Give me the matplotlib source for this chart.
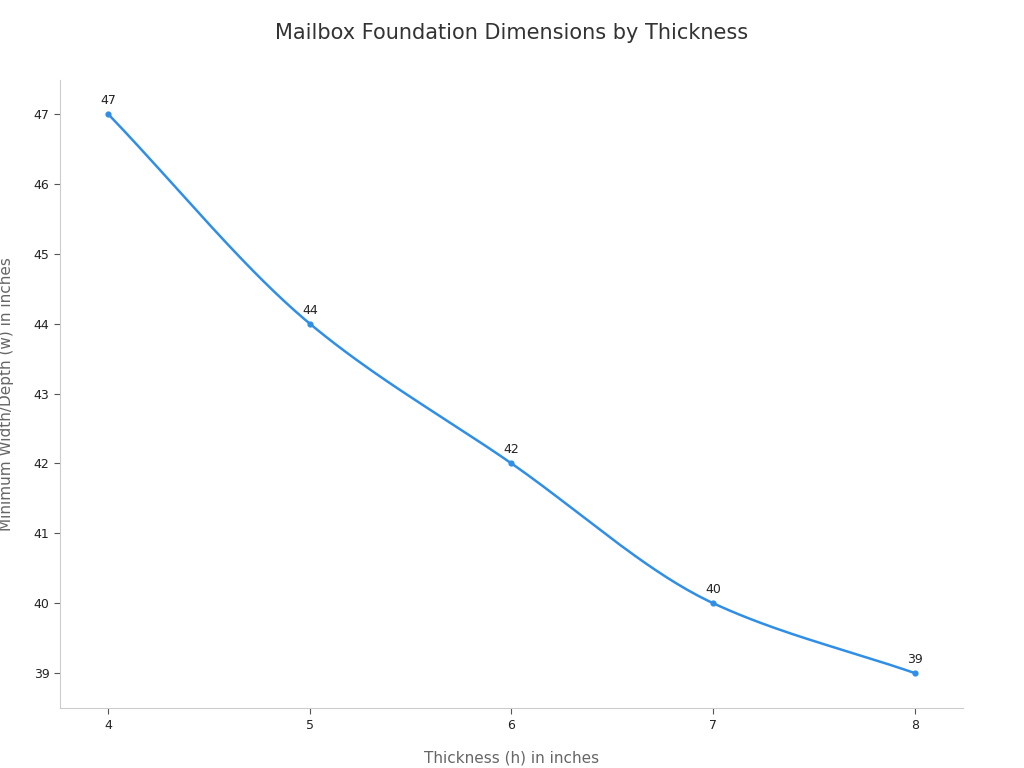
import matplotlib
matplotlib.use("Agg")
import matplotlib.pyplot as plt
import numpy as np

thickness = [4, 5, 6, 7, 8]
min_width = [47, 44, 42, 40, 39]


def monotone_curve(x, y, n=40):
    # Fritsch-Carlson monotone cubic, only for drawing a smooth line
    x = np.asarray(x, float)
    y = np.asarray(y, float)
    h = np.diff(x)
    d = np.diff(y) / h
    m = np.zeros_like(y)
    m[0], m[-1] = d[0], d[-1]
    for i in range(1, len(x) - 1):
        if d[i - 1] * d[i] <= 0:
            m[i] = 0
        else:
            m[i] = 3 * (h[i - 1] + h[i]) / ((2 * h[i] + h[i - 1]) / d[i - 1] + (h[i] + 2 * h[i - 1]) / d[i])
    xs, ys = [], []
    for i in range(len(x) - 1):
        t = np.linspace(0, 1, n)
        h00 = 2 * t**3 - 3 * t**2 + 1
        h10 = t**3 - 2 * t**2 + t
        h01 = -2 * t**3 + 3 * t**2
        h11 = t**3 - t**2
        xs.append(x[i] + t * h[i])
        ys.append(h00 * y[i] + h10 * h[i] * m[i] + h01 * y[i + 1] + h11 * h[i] * m[i + 1])
    return np.concatenate(xs), np.concatenate(ys)


fig = plt.figure(figsize=(10.24, 7.68), dpi=100)
ax = fig.add_axes([0.0586, 0.078, 0.8818, 0.818])

color = "#2f8fe6"
sx, sy = monotone_curve(thickness, min_width)
ax.plot(sx, sy, color=color, linewidth=1.8)
ax.scatter(thickness, min_width, color=color, s=12, zorder=3)
for xv, yv in zip(thickness, min_width):
    ax.annotate(str(yv), (xv, yv), xytext=(0, 5), textcoords="offset points",
                ha="center", va="bottom", fontsize=9, color="#222222")

ax.set_xlim(3.762, 8.238)
ax.set_ylim(38.5, 47.487)
ax.set_xticks(thickness)
ax.set_yticks(range(39, 48))
ax.tick_params(labelsize=9, colors="#222222", length=4)
ax.tick_params(axis="both", color="#555555")
for s in ["top", "right"]:
    ax.spines[s].set_visible(False)
for s in ["left", "bottom"]:
    ax.spines[s].set_color("#cccccc")

ax.set_xlabel("Thickness (h) in inches", fontsize=11, color="#666666", labelpad=14)
ax.set_ylabel("Minimum Width/Depth (w) in inches", fontsize=11, color="#666666", labelpad=14)
fig.suptitle("Mailbox Foundation Dimensions by Thickness", fontsize=15, color="#333333", y=0.97)

fig.savefig("out.png", dpi=100)
